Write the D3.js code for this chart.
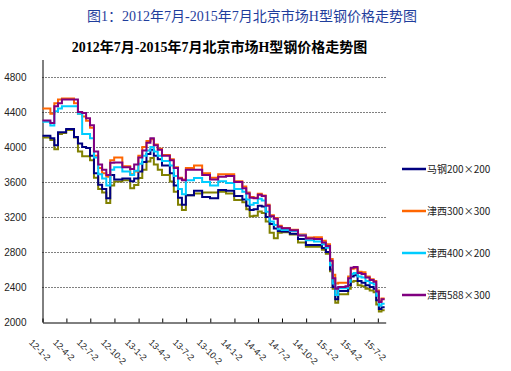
<!DOCTYPE html>
<html>
<head>
<meta charset="utf-8">
<script src="https://cdn.jsdelivr.net/npm/d3@7"></script>
<style>
  body { margin: 0; background: #fff; }
</style>
</head>
<body>
<svg id="chart"></svg>
<script>
// 北京市场H型钢价格 (元/吨)

const dates = [
  "2012-01-02","2012-02-01","2012-02-16","2012-03-01","2012-03-16","2012-04-01","2012-05-01","2012-05-16","2012-06-01","2012-06-16",
  "2012-07-01","2012-07-16","2012-08-01","2012-08-16","2012-09-01","2012-09-16","2012-10-01","2012-11-01","2012-12-01","2012-12-16",
  "2013-01-01","2013-01-16","2013-02-01","2013-02-16","2013-03-01","2013-03-16","2013-04-01","2013-05-01","2013-05-16","2013-06-01",
  "2013-06-16","2013-07-01","2013-08-01","2013-09-01","2013-10-01","2013-11-01","2013-12-01","2014-01-01","2014-02-01","2014-02-16",
  "2014-03-01","2014-03-16","2014-04-01","2014-04-16","2014-05-01","2014-05-16","2014-06-01","2014-06-16","2014-07-01","2014-08-01",
  "2014-09-01","2014-10-01","2014-11-01","2014-12-01","2014-12-16","2015-01-01","2015-01-11","2015-01-21","2015-02-01","2015-03-01",
  "2015-03-11","2015-03-21","2015-04-01","2015-04-16","2015-05-01","2015-05-16","2015-06-01","2015-06-16","2015-06-26","2015-07-06",
  "2015-07-16","2015-07-28"
];

const maGang200 = [
  4128,4100,4020,4170,4170,4205,4115,4040,4000,3990,
  3900,3700,3570,3520,3415,3680,3630,3640,3610,3640,
  3720,3830,3920,3970,3900,3860,3790,3700,3560,3420,
  3340,3450,3500,3430,3415,3510,3500,3440,3400,3330,
  3280,3290,3330,3320,3200,3120,3070,3040,3035,3010,
  2950,2880,2880,2845,2800,2600,2400,2260,2355,2355,
  2420,2520,2535,2470,2450,2420,2400,2380,2250,2150,
  2170,2170
];

const jinXi300 = [
  4440,4380,4500,4543,4555,4555,4500,4380,4350,4300,
  4220,3900,3760,3700,3660,3850,3880,3780,3690,3720,
  3900,4000,4070,4090,4030,3980,3910,3860,3770,3650,
  3630,3760,3790,3700,3650,3690,3690,3610,3550,3480,
  3430,3420,3465,3445,3340,3220,3190,3100,3075,3055,
  3000,2965,2970,2930,2890,2720,2540,2440,2450,2450,
  2520,2610,2615,2575,2570,2520,2490,2470,2360,2240,
  2270,2270
];

const jinXi400 = [
  4290,4245,4410,4440,4466,4466,4466,4380,4150,4150,
  4100,3880,3690,3640,3560,3740,3770,3720,3680,3730,
  3810,3900,3960,4000,3950,3900,3840,3790,3670,3520,
  3460,3620,3645,3600,3560,3610,3590,3520,3490,3400,
  3340,3360,3410,3390,3260,3150,3110,3060,3052,3040,
  2990,2935,2920,2890,2850,2650,2440,2310,2385,2385,
  2460,2550,2560,2520,2510,2470,2445,2430,2300,2190,
  2210,2210
];

const jinXi588 = [
  4302,4275,4466,4500,4543,4543,4543,4400,4390,4330,
  4250,3950,3800,3740,3680,3820,3823,3770,3748,3800,
  3880,3960,4050,4100,4020,3970,3900,3850,3760,3640,
  3620,3740,3740,3680,3630,3660,3670,3600,3530,3470,
  3420,3415,3455,3440,3330,3210,3180,3090,3071,3050,
  2990,2955,2950,2910,2870,2700,2500,2380,2400,2410,
  2500,2620,2630,2560,2550,2510,2480,2460,2350,2230,
  2260,2260
];

// fifth series, its legend entry is cut off in the original
const olive5 = [
  4110,4080,3975,4150,4160,4195,4110,3950,3895,3895,
  3850,3650,3520,3480,3360,3560,3605,3620,3530,3566,
  3645,3740,3835,3875,3800,3740,3680,3605,3490,3340,
  3280,3450,3470,3480,3480,3490,3470,3395,3370,3290,
  3210,3215,3262,3245,3150,3020,2956,3020,3025,3000,
  2910,2860,2860,2825,2780,2580,2380,2220,2318,2318,
  2380,2460,2470,2420,2410,2380,2360,2340,2200,2120,
  2135,2135
];

const tickDates = [
  "2012-01-02","2012-04-02","2012-07-02","2012-10-02","2013-01-02","2013-04-02","2013-07-02","2013-10-02",
  "2014-01-02","2014-04-02","2014-07-02","2014-10-02","2015-01-02","2015-04-02","2015-07-02"
];
const tickLabels = [
  "12-1-2","12-4-2","12-7-2","12-10-2","13-1-2","13-4-2","13-7-2","13-10-2",
  "14-1-2","14-4-2","14-7-2","14-10-2","15-1-2","15-4-2","15-7-2"
];
const yTicks = [2000, 2400, 2800, 3200, 3600, 4000, 4400, 4800];

const series = [
  { name: "", values: olive5, color: "#808000" },
  { name: "马钢200×200", values: maGang200, color: "#000080" },
  { name: "津西300×300", values: jinXi300, color: "#ff6600" },
  { name: "津西400×200", values: jinXi400, color: "#00ccff" },
  { name: "津西588×300", values: jinXi588, color: "#800080" }
];
const legendOrder = ["马钢200×200", "津西300×300", "津西400×200", "津西588×300"];

const W = 511, H = 371;
const plot = { left: 42.5, right: 385.7, top: 59.5, bottom: 322 };

const svg = d3.select("#chart")
  .attr("width", W)
  .attr("height", H);

const parse = d3.timeParse("%Y-%m-%d");

const x = d3.scaleTime()
  .domain([parse("2012-01-02"), parse("2015-08-01")])
  .range([plot.left, plot.right]);

const y = d3.scaleLinear()
  .domain([2000, 5000])
  .range([plot.bottom, plot.top]);

// titles
svg.append("text")
  .attr("x", 252)
  .attr("y", 21)
  .attr("text-anchor", "middle")
  .attr("font-family", "'Liberation Serif', 'Noto Sans CJK SC'")
  .attr("font-size", "14px")
  .attr("fill", "#1f3d9c")
  .text("图1：2012年7月-2015年7月北京市场H型钢价格走势图");

svg.append("text")
  .attr("x", 219.5)
  .attr("y", 52)
  .attr("text-anchor", "middle")
  .attr("font-family", "'Liberation Serif', 'Noto Sans CJK SC'")
  .attr("font-weight", "bold")
  .attr("font-size", "14px")
  .attr("fill", "#000")
  .text("2012年7月-2015年7月北京市场H型钢价格走势图");

// dotted gridlines
svg.append("g")
  .selectAll("line")
  .data(yTicks.filter(d => d > 2000))
  .join("line")
  .attr("x1", plot.left)
  .attr("x2", plot.right)
  .attr("y1", d => Math.round(y(d)) + 0.5)
  .attr("y2", d => Math.round(y(d)) + 0.5)
  .attr("stroke", "#000")
  .attr("stroke-dasharray", "1,2");

// y axis
const yAxis = svg.append("g")
  .attr("transform", `translate(${plot.left},0)`)
  .call(d3.axisLeft(y).tickValues(yTicks).tickSize(0).tickPadding(16).tickFormat(d3.format("d")));
yAxis.select(".domain").attr("stroke", "#000");
yAxis.selectAll("text")
  .attr("font-family", "'Liberation Sans', Arial, sans-serif")
  .attr("font-size", "10px")
  .attr("fill", "#222");

// lines
const line = d3.line()
  .x((d, i) => x(parse(dates[i])))
  .y(d => y(d))
  .curve(d3.curveStepAfter);

svg.append("g")
  .selectAll("path")
  .data(series)
  .join("path")
  .attr("fill", "none")
  .attr("stroke", d => d.color)
  .attr("stroke-width", 2)
  .attr("d", d => line(d.values));

// x axis
const xAxis = svg.append("g")
  .attr("transform", `translate(0,${plot.bottom + 0.5})`)
  .call(d3.axisBottom(x)
    .tickValues(tickDates.map(parse))
    .tickSize(-4)
    .tickSizeOuter(0)
    .tickFormat(""));
xAxis.select(".domain").attr("stroke", "#000");
xAxis.selectAll(".tick line").attr("stroke", "#000");

svg.append("g")
  .selectAll("text")
  .data(tickDates)
  .join("text")
  .attr("transform", d => `translate(${x(parse(d)) - 14},343) rotate(45)`)
  .attr("font-family", "'Liberation Sans', Arial, sans-serif")
  .attr("font-size", "9px")
  .attr("fill", "#222")
  .text((d, i) => tickLabels[i]);

// legend
const legend = svg.append("g")
  .attr("transform", "translate(402,169)");

legendOrder.forEach((name, i) => {
  const s = series.find(d => d.name === name);
  const item = legend.append("g")
    .attr("transform", `translate(0,${i * 42})`);
  item.append("line")
    .attr("x1", 0)
    .attr("x2", 24)
    .attr("stroke", s.color)
    .attr("stroke-width", 2.5);
  item.append("text")
    .attr("x", 25)
    .attr("dy", "0.35em")
    .attr("font-family", "'Noto Sans CJK SC', sans-serif")
    .attr("font-size", "10px")
    .attr("fill", "#222")
    .text(name);
});
</script>
</body>
</html>
